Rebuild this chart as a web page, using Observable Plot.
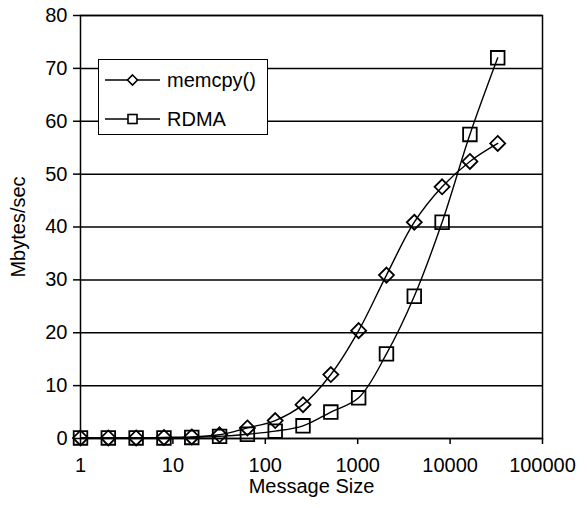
<!DOCTYPE html>
<html>
<head>
<meta charset="utf-8">
<script src="https://cdn.jsdelivr.net/npm/d3@7"></script>
<script src="https://cdn.jsdelivr.net/npm/@observablehq/plot@0.6"></script>
<style>
  html, body { margin: 0; padding: 0; background: #fff; }
  #wrap { position: relative; width: 587px; height: 508px; font-family: "Liberation Sans", Arial, sans-serif; }
  #legend { position: absolute; left: 98px; top: 59px; width: 168px; height: 74px; border: 1.5px solid #000; background: #fff; }
</style>
</head>
<body>
<div id="wrap"></div>
<script>
// Data
const sizes = [1, 2, 4, 8, 16, 32, 64, 128, 256, 512, 1024, 2048, 4096, 8192, 16384, 32768];
const memcpy = [0.1, 0.1, 0.1, 0.2, 0.3, 0.7, 2.0, 3.4, 6.4, 12.1, 20.4, 30.9, 40.9, 47.6, 52.4, 55.8];
const rdma = [0.1, 0.1, 0.1, 0.1, 0.2, 0.4, 0.8, 1.4, 2.4, 5.0, 7.7, 16.0, 26.9, 40.9, 57.5, 72.0];
const seriesNames = ["memcpy()", "RDMA"];
const xTicks = [1, 10, 100, 1000, 10000, 100000];
const yTicks = [0, 10, 20, 30, 40, 50, 60, 70, 80];

const memRows = sizes.map((s, i) => ({size: s, value: memcpy[i]}));
const rdmaRows = sizes.map((s, i) => ({size: s, value: rdma[i]}));

const diamondSym = {
  draw(ctx, size) {
    const r = Math.sqrt(size / Math.PI);
    ctx.moveTo(0, -r); ctx.lineTo(r, 0); ctx.lineTo(0, r); ctx.lineTo(-r, 0); ctx.closePath();
  }
};
const squareSym = {
  draw(ctx, size) {
    const r = Math.sqrt(size / Math.PI);
    ctx.rect(-r, -r, 2 * r, 2 * r);
  }
};

const chart = Plot.plot({
  width: 587,
  height: 508,
  marginLeft: 80,
  marginRight: 45,
  marginTop: 15,
  marginBottom: 70,
  style: {fontFamily: "Liberation Sans, Arial, sans-serif", fontSize: "20px", color: "#000", background: "#fff", overflow: "visible"},
  x: {type: "log", domain: [1, 100000]},
  y: {domain: [0, 80]},
  marks: [
    Plot.gridY(yTicks, {stroke: "#000", strokeOpacity: 1, strokeWidth: 1.5}),
    Plot.frame({stroke: "#000", strokeWidth: 1.5}),
    Plot.axisX(xTicks, {
      tickSize: 6, tickPadding: 13, strokeWidth: 1.5,
      tickFormat: d => String(d), fontSize: 20,
      label: "Message Size", labelAnchor: "center", labelArrow: "none", labelOffset: 54
    }),
    Plot.axisY(yTicks, {
      tickSize: 7, tickPadding: 6, strokeWidth: 1.5, fontSize: 20,
      tickFormat: d => String(d),
      label: "Mbytes/sec", labelAnchor: "center", labelArrow: "none", labelOffset: 70
    }),
    Plot.line(memRows, {x: "size", y: "value", curve: "catmull-rom", stroke: "#000", strokeWidth: 1.4}),
    Plot.line(rdmaRows, {x: "size", y: "value", curve: "catmull-rom", stroke: "#000", strokeWidth: 1.4}),
    Plot.dot(memRows, {x: "size", y: "value", symbol: diamondSym, r: 7.5, stroke: "#000", fill: "none", strokeWidth: 1.8}),
    Plot.dot(rdmaRows, {x: "size", y: "value", symbol: squareSym, r: 6.8, stroke: "#000", fill: "none", strokeWidth: 1.8})
  ]
});

const wrap = document.getElementById("wrap");
wrap.appendChild(chart);

// Legend
const legend = document.createElement("div");
legend.id = "legend";
legend.innerHTML = `
<svg width="168" height="74" style="position:absolute;left:0;top:0;overflow:visible;font-family:'Liberation Sans', Arial, sans-serif;">
  <line x1="6" x2="61" y1="20" y2="20" stroke="#000" stroke-width="1.4"/>
  <path d="M33.5,15L38.5,20L33.5,25L28.5,20Z" fill="#fff" stroke="#000" stroke-width="1.6"/>
  <text x="68" y="20" dy="0.35em" font-size="20">${seriesNames[0]}</text>
  <line x1="6" x2="61" y1="59" y2="59" stroke="#000" stroke-width="1.4"/>
  <rect x="29" y="54.5" width="9" height="9" fill="#fff" stroke="#000" stroke-width="1.6"/>
  <text x="68" y="59" dy="0.35em" font-size="20">${seriesNames[1]}</text>
</svg>`;
wrap.appendChild(legend);
</script>
</body>
</html>
